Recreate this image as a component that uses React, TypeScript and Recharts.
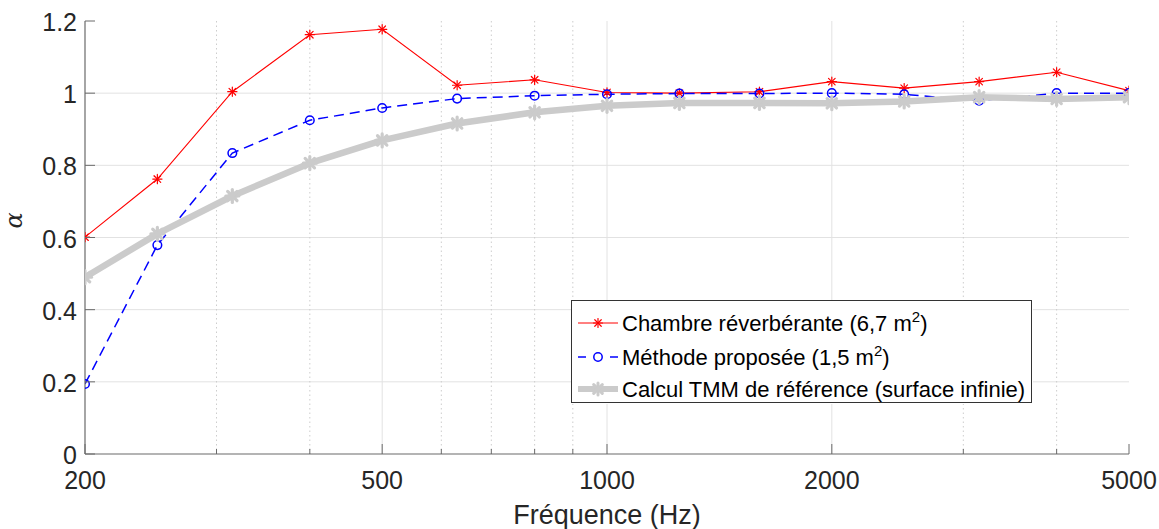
import React from 'react';
import { LineChart, Line, XAxis, YAxis, CartesianGrid, Legend } from 'recharts';

// Third-octave band centre frequencies (Hz)
const frequencies = [200, 250, 315, 400, 500, 630, 800, 1000, 1250, 1600, 2000, 2500, 3150, 4000, 5000];

// Absorption coefficient per band
const chambreReverberante = [0.601, 0.762, 1.004, 1.162, 1.177, 1.022, 1.037, 1.002, 1.0, 1.004, 1.032, 1.014, 1.032, 1.058, 1.007];
const methodeProposee = [0.194, 0.579, 0.834, 0.925, 0.959, 0.985, 0.993, 0.997, 0.999, 0.999, 1.0, 0.997, 0.979, 1.0, 1.0];
const calculTMM = [0.49, 0.61, 0.715, 0.806, 0.869, 0.916, 0.947, 0.965, 0.973, 0.973, 0.972, 0.977, 0.989, 0.984, 0.989];

// Axis ticks and grid
const xMajorTicks = [200, 500, 1000, 2000, 5000];
const xMinorTicks = [300, 400, 600, 700, 800, 900, 3000, 4000];
const xAllTicks = [200, 300, 400, 500, 600, 700, 800, 900, 1000, 2000, 3000, 4000, 5000];
const xMajorGrid = [500, 1000, 2000];
const yTicks = [0, 0.2, 0.4, 0.6, 0.8, 1, 1.2];
const yGrid = [0.2, 0.4, 0.6, 0.8, 1];

const seriesLabels = ['Chambre réverbérante (6,7 m', 'Méthode proposée (1,5 m', 'Calcul TMM de référence (surface infinie)'];

const data = frequencies.map((f, i) => ({
  f,
  chambre: chambreReverberante[i],
  methode: methodeProposee[i],
  tmm: calculTMM[i],
}));

const FONT = '"Liberation Sans", Arial, Helvetica, sans-serif';
const AXIS = '#6a6a6a';
const TEXT = '#262626';
const RED = '#ff0000';
const BLUE = '#0000ff';
const GRAY = '#cbcbcb';

const Asterisk = ({ cx, cy, r, color, w }: { cx: number; cy: number; r: number; color: string; w: number }) => {
  const d = r * 0.72;
  return (
    <g stroke={color} strokeWidth={w} strokeLinecap="round">
      <line x1={cx - r} x2={cx + r} y1={cy} y2={cy} />
      <line x1={cx} x2={cx} y1={cy - r} y2={cy + r} />
      <line x1={cx - d} x2={cx + d} y1={cy - d} y2={cy + d} />
      <line x1={cx - d} x2={cx + d} y1={cy + d} y2={cy - d} />
    </g>
  );
};

const BottomTick = (props: any) => {
  const { x, y, payload } = props;
  const major = xMajorTicks.includes(payload.value);
  return (
    <g>
      <line x1={x} x2={x} y1={y} y2={y - (major ? 10 : 5)} stroke={AXIS} strokeWidth={1} />
      {major && (
        <text x={x} y={y + 35} textAnchor="middle" fontFamily={FONT} fontSize={25} fill={TEXT}>
          {payload.value}
        </text>
      )}
    </g>
  );
};

const TopTick = (props: any) => {
  const { x, y, payload } = props;
  const major = xMajorTicks.includes(payload.value);
  return <line x1={x} x2={x} y1={y} y2={y + (major ? 10 : 5)} stroke={AXIS} strokeWidth={1} />;
};

const LeftTick = (props: any) => {
  const { x, y, payload } = props;
  return (
    <g>
      <line x1={x} x2={x + 10} y1={y} y2={y} stroke={AXIS} strokeWidth={1} />
      <text x={x - 8} y={y + 10} textAnchor="end" fontFamily={FONT} fontSize={25} fill={TEXT}>
        {payload.value}
      </text>
    </g>
  );
};

const RightTick = (props: any) => {
  const { x, y } = props;
  return <line x1={x} x2={x - 10} y1={y} y2={y} stroke={AXIS} strokeWidth={1} />;
};

const XLabel = (props: any) => {
  const vb = props.viewBox;
  return (
    <text x={vb.x + vb.width / 2} y={vb.y + 70} textAnchor="middle" fontFamily={FONT} fontSize={27} fill={TEXT}>
      Fréquence (Hz)
    </text>
  );
};

const YLabel = (props: any) => {
  const vb = props.viewBox;
  const x = vb.x + 22;
  const y = vb.y + vb.height / 2 - 17;
  return (
    <text
      x={x}
      y={y}
      transform={`rotate(-90 ${x} ${y})`}
      textAnchor="middle"
      fontFamily='"DejaVu Serif", "Liberation Serif", serif'
      fontStyle="italic"
      fontSize={24}
      fill={TEXT}
    >
      α
    </text>
  );
};

const LegendBox = () => {
  const rows = [23, 57, 89];
  return (
    <svg width={462} height={104} style={{ display: 'block', background: '#fff' }}>
      <rect x={0.5} y={0.5} width={460} height={102} fill="#fff" stroke="#333" strokeWidth={1} />
      {/* Chambre réverbérante */}
      <line x1={7} x2={47} y1={rows[0]} y2={rows[0]} stroke={RED} strokeWidth={1} />
      <Asterisk cx={27} cy={rows[0]} r={4.5} color={RED} w={1.2} />
      {/* Méthode proposée */}
      <line x1={7} x2={15} y1={rows[1]} y2={rows[1]} stroke={BLUE} strokeWidth={1.5} />
      <line x1={39} x2={47} y1={rows[1]} y2={rows[1]} stroke={BLUE} strokeWidth={1.5} />
      <circle cx={27} cy={rows[1]} r={4.2} fill="none" stroke={BLUE} strokeWidth={1.5} />
      {/* Calcul TMM */}
      <line x1={7} x2={47} y1={rows[2]} y2={rows[2]} stroke={GRAY} strokeWidth={6} />
      <Asterisk cx={27} cy={rows[2]} r={6} color={GRAY} w={3} />

      <text x={51} y={rows[0] + 8} fontFamily={FONT} fontSize={22} fill="#000">
        {seriesLabels[0]}
        <tspan dy={-9} fontSize={15}>2</tspan>
        <tspan dy={9}>)</tspan>
      </text>
      <text x={51} y={rows[1] + 8} fontFamily={FONT} fontSize={22} fill="#000">
        {seriesLabels[1]}
        <tspan dy={-9} fontSize={15}>2</tspan>
        <tspan dy={9}>)</tspan>
      </text>
      <text x={51} y={rows[2] + 8} fontFamily={FONT} fontSize={22} fill="#000">
        {seriesLabels[2]}
      </text>
    </svg>
  );
};

export default function App() {
  return (
    <div style={{ position: 'absolute', left: 0, top: 0, background: '#fff' }}>
      <LineChart width={1159} height={529} data={data} margin={{ top: 21, right: 30, bottom: 0, left: 0 }}>
        <CartesianGrid
          horizontalValues={yGrid}
          verticalValues={xMajorGrid}
          stroke="#e2e2e2"
          strokeWidth={1}
        />
        <CartesianGrid
          horizontal={false}
          verticalValues={xMinorTicks}
          stroke="#cdcdcd"
          strokeDasharray="1.5 3"
          strokeWidth={1}
        />
        <XAxis
          dataKey="f"
          type="number"
          scale="log"
          domain={[200, 5000]}
          allowDataOverflow
          ticks={xAllTicks}
          interval={0}
          height={75}
          tickSize={0}
          tickMargin={0}
          tickLine={false}
          tick={BottomTick}
          axisLine={{ stroke: AXIS, strokeWidth: 1.2 }}
          label={<XLabel />}
        />
        <XAxis
          xAxisId="top"
          orientation="top"
          type="number"
          scale="log"
          domain={[200, 5000]}
          allowDataOverflow
          ticks={xAllTicks}
          interval={0}
          height={0}
          tickSize={0}
          tickMargin={0}
          tickLine={false}
          tick={TopTick}
          axisLine={{ stroke: AXIS, strokeWidth: 1.2 }}
        />
        <YAxis
          type="number"
          domain={[0, 1.2]}
          allowDataOverflow
          ticks={yTicks}
          interval={0}
          width={85}
          tickSize={0}
          tickMargin={0}
          tickLine={false}
          tick={LeftTick}
          axisLine={{ stroke: AXIS, strokeWidth: 1.2 }}
          label={<YLabel />}
        />
        <YAxis
          yAxisId="right"
          orientation="right"
          type="number"
          domain={[0, 1.2]}
          allowDataOverflow
          ticks={yTicks}
          interval={0}
          width={0}
          tickSize={0}
          tickMargin={0}
          tickLine={false}
          tick={RightTick}
          axisLine={{ stroke: AXIS, strokeWidth: 1.2 }}
        />
        <Line
          dataKey="chambre"
          stroke={RED}
          strokeWidth={1.1}
          isAnimationActive={false}
          dot={(p: any) => <Asterisk key={`c-${p.index}`} cx={p.cx} cy={p.cy} r={4.6} color={RED} w={1.2} />}
          activeDot={false}
        />
        <Line
          dataKey="methode"
          stroke={BLUE}
          strokeWidth={1.5}
          strokeDasharray="10 6"
          isAnimationActive={false}
          dot={(p: any) => (
            <circle key={`m-${p.index}`} cx={p.cx} cy={p.cy} r={4.3} fill="none" stroke={BLUE} strokeWidth={1.5} />
          )}
          activeDot={false}
        />
        <Line
          dataKey="tmm"
          stroke={GRAY}
          strokeWidth={6.5}
          strokeLinejoin="round"
          isAnimationActive={false}
          dot={(p: any) => <Asterisk key={`t-${p.index}`} cx={p.cx} cy={p.cy} r={6.5} color={GRAY} w={3.2} />}
          activeDot={false}
        />
        <Legend
          layout="vertical"
          align="center"
          verticalAlign="middle"
          content={<LegendBox />}
          wrapperStyle={{ position: 'absolute', left: 571, top: 300, width: 462, height: 104, bottom: 'auto', right: 'auto' }}
        />
      </LineChart>
    </div>
  );
}
